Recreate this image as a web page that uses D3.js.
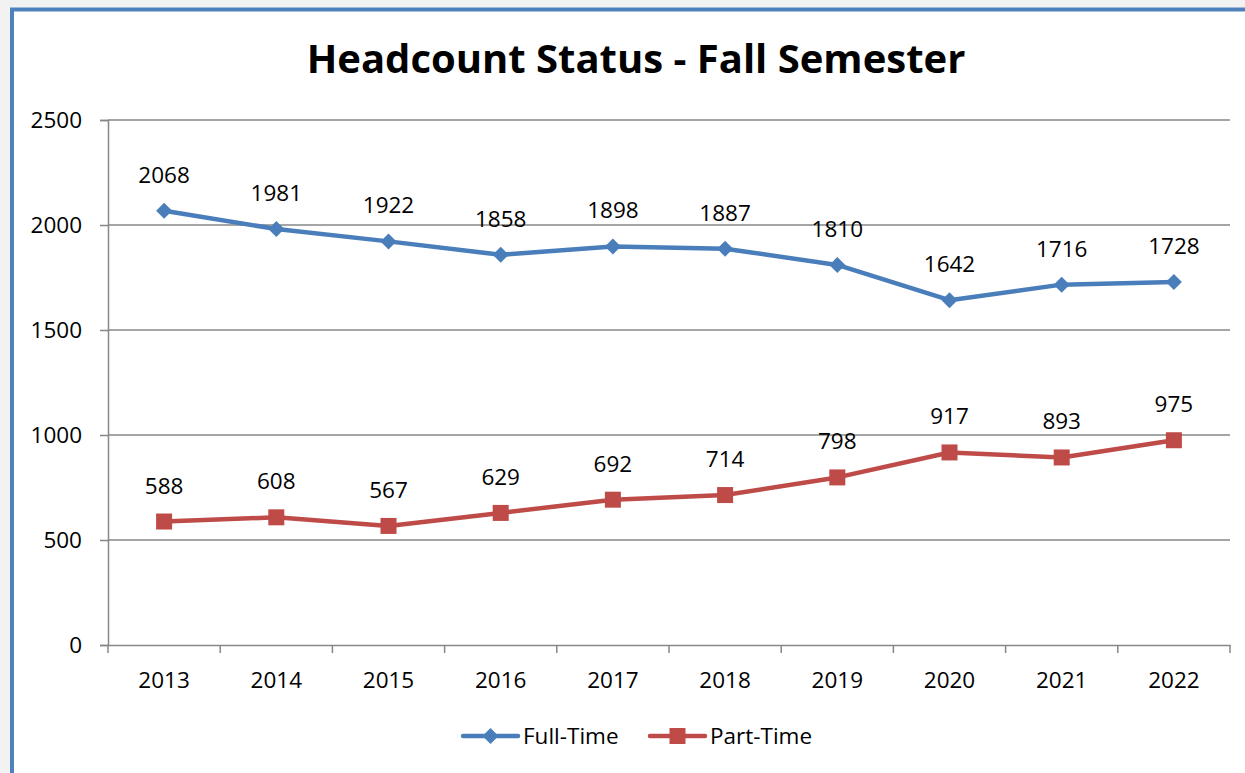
<!DOCTYPE html>
<html>
<head>
<meta charset="utf-8">
<script src="https://cdn.jsdelivr.net/npm/d3@7"></script>
<style>
  body { margin: 0; background: #f2f2f2; }
  #chart { position: absolute; left: 0; top: 0; }
  text { font-family: "Open Sans", "Noto Sans", sans-serif; }
</style>
</head>
<body>
<div id="chart"></div>
<script>
const years = ["2013", "2014", "2015", "2016", "2017", "2018", "2019", "2020", "2021", "2022"];
const fullTime = [2068, 1981, 1922, 1858, 1898, 1887, 1810, 1642, 1716, 1728];
const partTime = [588, 608, 567, 629, 692, 714, 798, 917, 893, 975];
const yTicks = [0, 500, 1000, 1500, 2000, 2500];

const W = 1245, H = 773;
const svg = d3.select('#chart').append('svg').attr("width", W).attr("height", H);

// chart frame
svg.append("rect").attr("x", 14).attr("y", 11).attr("width", W).attr("height", H)
  .attr("fill", "white");
svg.append("path").attr("d", "M12,773 V9.5 H1245")
  .attr("fill", "none").attr("stroke", "#4f81bd").attr("stroke-width", 4);

const margin = {left: 108, right: 1230, top: 120, bottom: 645};

const x = d3.scaleBand().domain(years).range([margin.left, margin.right]);
const y = d3.scaleLinear().domain([0, 2500]).range([margin.bottom, margin.top]);

svg.append("text")
  .attr("x", 636).attr("y", 73)
  .attr("text-anchor", "middle")
  .attr("font-size", "40px").attr("font-weight", "bold")
  .text("Headcount Status - Fall Semester");

// gridlines
svg.append("g").selectAll("line")
  .data(yTicks.filter(d => d > 0))
  .enter().append("line")
  .attr("x1", margin.left).attr("x2", margin.right)
  .attr("y1", d => y(d)).attr("y2", d => y(d))
  .attr("stroke", "#878787").attr("stroke-width", 1.5);

// y axis
const yAxis = svg.append("g")
  .attr("transform", "translate(" + margin.left + ",0)")
  .call(d3.axisLeft(y).tickValues(yTicks).tickFormat(d3.format("d")).tickSize(8).tickPadding(18));
yAxis.select(".domain").attr("stroke", "#878787").attr("stroke-width", 1.5);
yAxis.selectAll(".tick line").attr("stroke", "#878787").attr("stroke-width", 1.5);
yAxis.selectAll("text").attr("font-size", "22.5px").attr("fill", "black")
  .style("font-family", "'Open Sans', sans-serif");

// x axis
const xAxis = svg.append("g")
  .attr("transform", "translate(0," + margin.bottom + ")")
  .call(d3.axisBottom(x).tickSize(0).tickPadding(27));
xAxis.select(".domain").attr("stroke", "#878787").attr("stroke-width", 1.5);
xAxis.selectAll("text").attr("font-size", "22.5px").attr("fill", "black")
  .style("font-family", "'Open Sans', sans-serif");
// boundary ticks
const bounds = years.map(d => x(d)).concat([margin.right]);
svg.append("g").selectAll("line").data(bounds).enter().append("line")
  .attr("x1", d => d).attr("x2", d => d)
  .attr("y1", margin.bottom).attr("y2", margin.bottom + 8)
  .attr("stroke", "#878787").attr("stroke-width", 1.5);

const cx = d => x(d) + x.bandwidth() / 2;
const line = d3.line().x(d => cx(d.year)).y(d => y(d.value));

const series = [
  {name: "Full-Time", values: fullTime, color: "#4a7ebb", marker: "diamond"},
  {name: "Part-Time", values: partTime, color: "#be4b48", marker: "square"}
];

function drawMarker(g, kind, color) {
  if (kind === "diamond") {
    g.append("path").attr("d", "M0,-8 L8,0 L0,8 L-8,0 Z").attr("fill", color);
  } else {
    g.append("rect").attr("x", -8).attr("y", -8).attr("width", 16).attr("height", 16).attr("fill", color);
  }
}

series.forEach(s => {
  const data = years.map((yr, i) => ({year: yr, value: s.values[i]}));
  svg.append("path").datum(data)
    .attr("d", line).attr("fill", "none")
    .attr("stroke", s.color).attr("stroke-width", 4.5)
    .attr("stroke-linejoin", "round");
  data.forEach(d => {
    const g = svg.append("g").attr("transform", "translate(" + cx(d.year) + "," + y(d.value) + ")");
    drawMarker(g, s.marker, s.color);
    svg.append("text")
      .attr("x", cx(d.year)).attr("y", y(d.value) - 28)
      .attr("text-anchor", "middle").attr("font-size", "22.5px")
      .text(d.value);
  });
});

// legend
const legendPos = [{x: 463, s: series[0]}, {x: 650, s: series[1]}];
legendPos.forEach(l => {
  const g = svg.append("g").attr("transform", "translate(" + l.x + ",736)");
  g.append("line").attr("x1", 0).attr("x2", 55).attr("y1", 0).attr("y2", 0)
    .attr("stroke", l.s.color).attr("stroke-width", 4.5).attr("stroke-linecap", "round");
  const m = g.append("g").attr("transform", "translate(27.5,0)");
  drawMarker(m, l.s.marker, l.s.color);
  g.append("text").attr("x", 60).attr("y", 8).attr("font-size", "22.5px").text(l.s.name);
});
</script>
</body>
</html>
